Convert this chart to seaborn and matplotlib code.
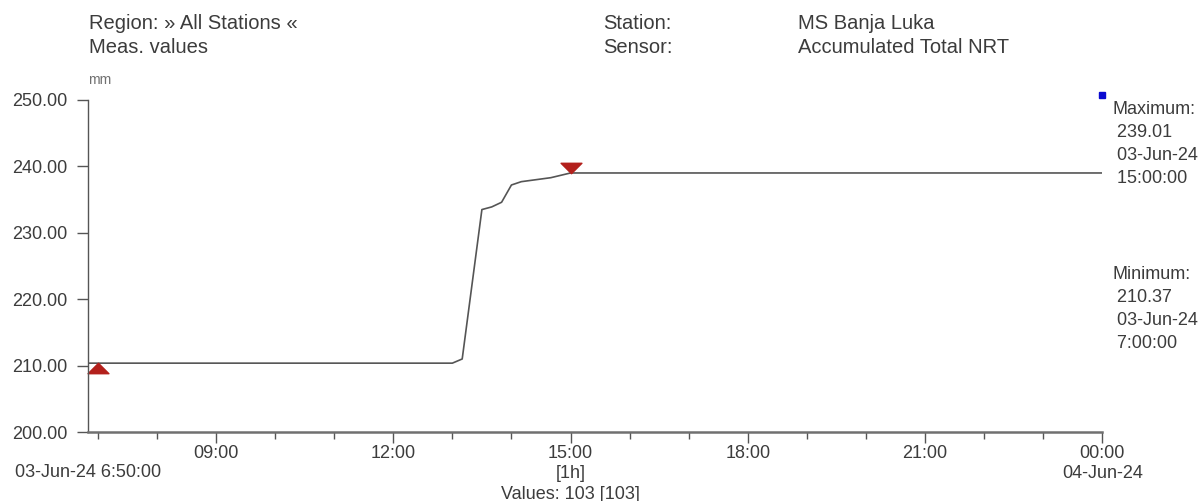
import pandas as pd
import matplotlib
matplotlib.use("Agg")
import matplotlib.pyplot as plt
import matplotlib.dates as mdates
from matplotlib.path import Path
import seaborn as sns

TIMES = ["2024-06-03 06:50", "2024-06-03 07:00", "2024-06-03 13:00", "2024-06-03 13:10",
         "2024-06-03 13:30", "2024-06-03 13:40", "2024-06-03 13:50", "2024-06-03 14:00",
         "2024-06-03 14:10", "2024-06-03 14:40", "2024-06-03 15:00", "2024-06-04 00:00"]
VALUES = [210.37, 210.37, 210.37, 211.0, 233.5, 233.9, 234.6, 237.2, 237.7, 238.3, 239.01, 239.01]

MAX_TIME = "2024-06-03 15:00"
MAX_VALUE = 239.01
MIN_TIME = "2024-06-03 07:00"
MIN_VALUE = 210.37

Y_TICKS = [200, 210, 220, 230, 240, 250]
X_MAJOR = ["2024-06-03 09:00", "2024-06-03 12:00", "2024-06-03 15:00",
           "2024-06-03 18:00", "2024-06-03 21:00", "2024-06-04 00:00"]
X_LABELS = ["09:00", "12:00", "15:00\n[1h]\nValues: 103 [103]", "18:00", "21:00", "00:00\n04-Jun-24"]
X_START = "2024-06-03 06:50"
X_END = "2024-06-04 00:00"

TEXT_COLOR = "#3c3c3c"
TICK_FS = 13
HEAD_FS = 14.5

sns.set_style("white")
plt.rcParams["font.family"] = ["Liberation Sans", "DejaVu Sans"]

df = pd.DataFrame({"time": pd.to_datetime(TIMES), "value": VALUES})

fig = plt.figure(figsize=(12.03, 5.01), dpi=100)
ax = fig.add_axes([0.0732, 0.1377, 0.843, 0.6627])

sns.lineplot(data=df, x="time", y="value", ax=ax, color="#555555", linewidth=1.2)

# flattened triangles for max / min
down_tri = Path([(-1, 0.5), (1, 0.5), (0, -0.5), (-1, 0.5)],
                [Path.MOVETO, Path.LINETO, Path.LINETO, Path.CLOSEPOLY])
up_tri = Path([(-1, -0.5), (1, -0.5), (0, 0.5), (-1, -0.5)],
              [Path.MOVETO, Path.LINETO, Path.LINETO, Path.CLOSEPOLY])
ax.plot(pd.to_datetime([MAX_TIME]), [MAX_VALUE + 0.8], marker=down_tri, markersize=15,
        color="#b3201c", linestyle="none", clip_on=False)
ax.plot(pd.to_datetime([MIN_TIME]), [MIN_VALUE - 0.8], marker=up_tri, markersize=15,
        color="#b3201c", linestyle="none", clip_on=False)
ax.plot(pd.to_datetime([X_END]), [250.75], marker="s", markersize=5, color="#0a0ad0",
        linestyle="none", clip_on=False)

ax.set_xlim(pd.Timestamp(X_START), pd.Timestamp(X_END))
ax.set_ylim(200, 250)
ax.set_xlabel("")
ax.set_ylabel("")

ax.set_yticks(Y_TICKS)
ax.set_yticklabels([f"{v:.2f}" for v in Y_TICKS])
ax.set_xticks(pd.to_datetime(X_MAJOR))
ax.set_xticklabels(X_LABELS, linespacing=1.3)
ax.xaxis.set_minor_locator(mdates.HourLocator())

ax.tick_params(axis="y", left=True, direction="out", length=8, width=1, color="#555555",
               labelsize=TICK_FS, labelcolor=TEXT_COLOR, pad=7)
ax.tick_params(axis="x", which="major", bottom=True, direction="out", length=8, width=1,
               color="#555555", labelsize=TICK_FS, labelcolor=TEXT_COLOR, pad=1)
ax.tick_params(axis="x", which="minor", bottom=True, direction="out", length=5, width=1,
               color="#555555")

for side in ["top", "right"]:
    ax.spines[side].set_visible(False)
ax.spines["left"].set_color("#555555")
ax.spines["left"].set_linewidth(1.0)
ax.spines["bottom"].set_color("#707070")
ax.spines["bottom"].set_linewidth(1.8)

# start label under the axis
ax.annotate("03-Jun-24 6:50:00", xy=(0, 0), xycoords="axes fraction", xytext=(0, -29.5),
            textcoords="offset points", ha="center", va="center", fontsize=TICK_FS,
            color=TEXT_COLOR)
ax.text(0.0, 1.06, "mm", transform=ax.transAxes, fontsize=10, color="#707070",
        ha="left", va="center")

# right side extreme annotations
ax.text(1.0099, 0.997, "Maximum:\n 239.01\n 03-Jun-24\n 15:00:00", transform=ax.transAxes,
        ha="left", va="top", fontsize=TICK_FS, color=TEXT_COLOR, linespacing=1.45)
ax.text(1.0099, 0.5, "Minimum:\n 210.37\n 03-Jun-24\n 7:00:00", transform=ax.transAxes,
        ha="left", va="top", fontsize=TICK_FS, color=TEXT_COLOR, linespacing=1.45)

# header
for x, top, bottom in [(0.074, "Region: » All Stations «", "Meas. values"),
                       (0.501, "Station:", "Sensor:"),
                       (0.663, "MS Banja Luka", "Accumulated Total NRT")]:
    fig.text(x, 0.954, top, ha="left", va="center", fontsize=HEAD_FS, color=TEXT_COLOR)
    fig.text(x, 0.906, bottom, ha="left", va="center", fontsize=HEAD_FS, color=TEXT_COLOR)

fig.savefig("out.png", dpi=100)
